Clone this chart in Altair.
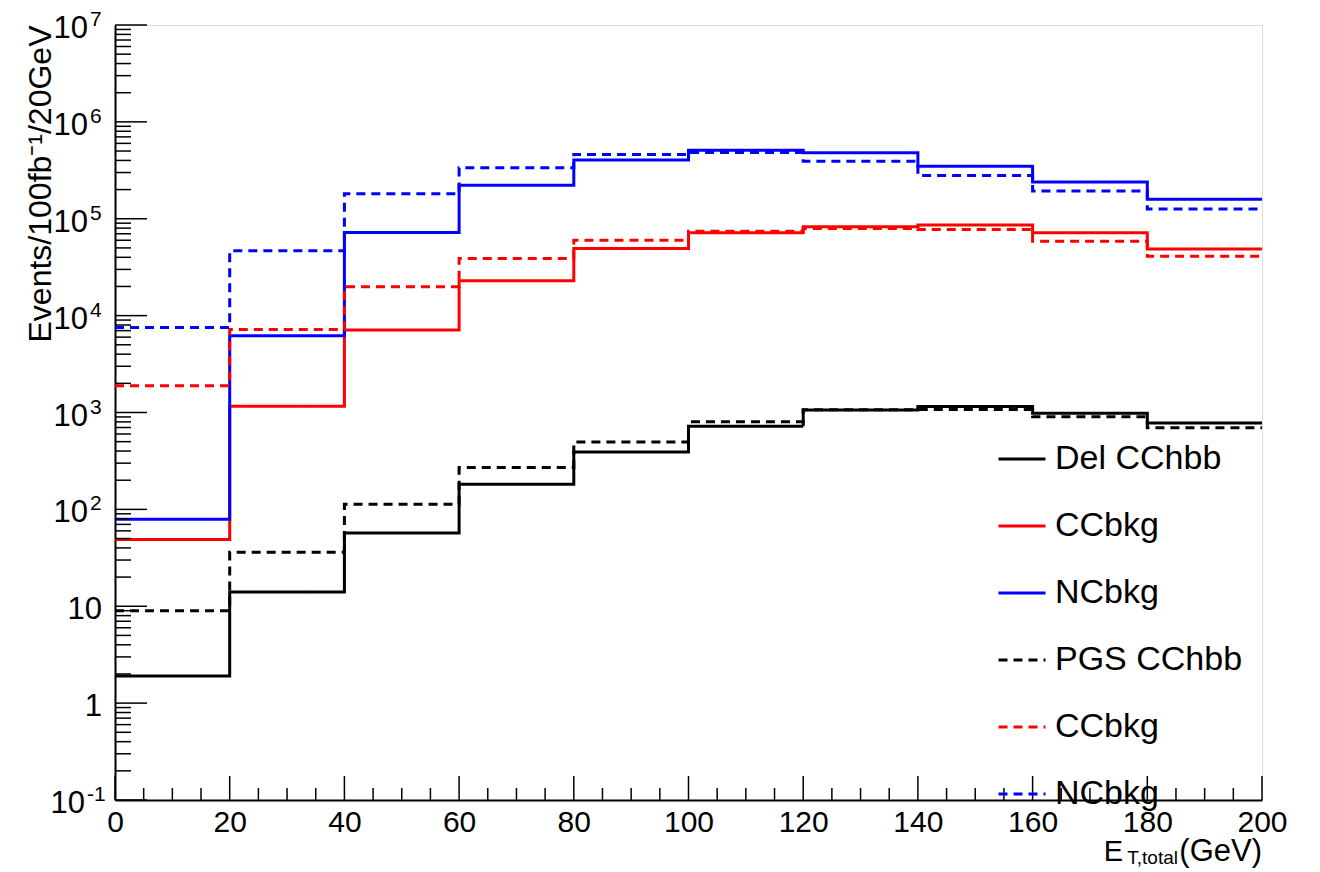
import altair as alt
import pandas as pd

# ---- data ----
bin_edges = [0, 20, 40, 60, 80, 100, 120, 140, 160, 180, 200]
series_names = ["Del CChbb", "Del CCbkg", "Del NCbkg", "PGS CChbb", "PGS CCbkg", "PGS NCbkg"]
del_cchbb = [1.9, 14, 57, 182, 390, 720, 1060, 1150, 980, 780]
del_ccbkg = [49, 1160, 7100, 22900, 49400, 71600, 82600, 86000, 71600, 48600]
del_ncbkg = [79, 6200, 72000, 222000, 403000, 510000, 479000, 349000, 240000, 159000]
pgs_cchbb = [9.0, 36, 113, 271, 495, 805, 1070, 1075, 903, 695]
pgs_ccbkg = [1890, 7190, 19900, 38900, 60100, 74500, 79300, 77400, 58700, 41100]
pgs_ncbkg = [7550, 46700, 181000, 336000, 461000, 483000, 393000, 280000, 193000, 126000]

series_colors = ["#000000", "#ff0000", "#0000ff", "#000000", "#ff0000", "#0000ff"]
series_dashes = [[1, 0], [1, 0], [1, 0], [9, 6], [9, 6], [9, 6]]

y_label_values = [0.1, 1, 10, 100, 1e3, 1e4, 1e5, 1e6, 1e7]
y_label_base = ["10", "1", "10", "10", "10", "10", "10", "10", "10"]
y_label_exp = ["-1", "", "", "2", "3", "4", "5", "6", "7"]
x_label_values = [0, 20, 40, 60, 80, 100, 120, 140, 160, 180, 200]

W, H = 1147, 775
FONT = "Liberation Sans"

# ---- tables ----
all_series = [del_cchbb, del_ccbkg, del_ncbkg, pgs_cchbb, pgs_ccbkg, pgs_ncbkg]
rows = []
for name, vals in zip(series_names, all_series):
    for i, v in enumerate(vals):
        rows.append({"series": name, "x": bin_edges[i], "value": v})
    rows.append({"series": name, "x": bin_edges[-1], "value": vals[-1]})
hist_df = pd.DataFrame(rows)

ymaj_df = pd.DataFrame({"value": y_label_values})
ymin_df = pd.DataFrame({"value": [k * d for d in y_label_values[:-1] for k in range(2, 10)]})
xmaj_df = pd.DataFrame({"x": x_label_values})
xmin_df = pd.DataFrame({"x": [v for v in range(0, 201, 5) if v % 20 != 0]})

lab_df = pd.DataFrame({"value": y_label_values, "base": y_label_base, "exp": y_label_exp})
lab_exp1_df = lab_df[lab_df["exp"].str.len() == 1]
lab_exp2_df = lab_df[lab_df["exp"].str.len() == 2]
lab_plain_df = lab_df[lab_df["exp"] == ""]

# ---- scales / axes ----
xscale = alt.Scale(domain=[0, 200], nice=False, zero=False)
yscale = alt.Scale(type="log", domain=[0.1, 1e7], nice=False)
xaxis = alt.Axis(values=x_label_values, ticks=False, grid=False, labelFontSize=30,
                 labelFont=FONT, labelColor="black", labelPadding=7, domainColor="black",
                 domainWidth=2, title="", labelFlush=False)
yaxis = alt.Axis(labels=False, ticks=False, grid=False, domainColor="black", domainWidth=2,
                 title="Events/100fb⁻¹/20GeV", titleFont=FONT, titleFontSize=32,
                 titleFontWeight="normal", titleColor="black", titleAngle=-90,
                 titleAlign="right", titleBaseline="alphabetic", titleX=-65, titleY=0)

X = alt.X("x:Q", scale=xscale, axis=xaxis)
Y = alt.Y("value:Q", scale=yscale, axis=yaxis)

hist = alt.Chart(hist_df).mark_line(interpolate="step-after", strokeWidth=3, clip=True).encode(
    x=X, y=Y,
    color=alt.Color("series:N", title="",
                    scale=alt.Scale(domain=series_names, range=series_colors),
                    legend=alt.Legend(orient="none", legendX=882, legendY=409, symbolType="stroke",
                                      symbolSize=2209, symbolStrokeWidth=3, labelFontSize=34,
                                      labelFont=FONT, labelColor="black", rowPadding=25,
                                      labelOffset=8, padding=0, labelLimit=400,
                                      labelExpr="indexof(datum.label,'bkg')>=0 ? slice(datum.label,4) : datum.label")),
    strokeDash=alt.StrokeDash("series:N", title="",
                              scale=alt.Scale(domain=series_names, range=series_dashes)),
    order=alt.Order("series:N"),
)

ymaj = alt.Chart(ymaj_df).mark_rule(color="black", strokeWidth=1.5).encode(
    y=Y, x=alt.value(0), x2=alt.value(32))
ymin = alt.Chart(ymin_df).mark_rule(color="black", strokeWidth=1.5).encode(
    y=Y, x=alt.value(0), x2=alt.value(16))
xmaj = alt.Chart(xmaj_df).mark_rule(color="black", strokeWidth=1.5).encode(
    x=X, y=alt.value(H), y2=alt.value(H - 24))
xmin = alt.Chart(xmin_df).mark_rule(color="black", strokeWidth=1.5).encode(
    x=X, y=alt.value(H), y2=alt.value(H - 12))

base_style = dict(font=FONT, fontSize=31, align="right", baseline="middle", dy=4, color="black")
exp_style = dict(font=FONT, fontSize=21, align="left", baseline="middle", dy=-5, color="black")
ylab_b1 = alt.Chart(lab_exp1_df).mark_text(**base_style).encode(y=Y, x=alt.value(-27), text="base:N")
ylab_e1 = alt.Chart(lab_exp1_df).mark_text(**exp_style).encode(y=Y, x=alt.value(-25), text="exp:N")
ylab_b2 = alt.Chart(lab_exp2_df).mark_text(**base_style).encode(y=Y, x=alt.value(-30), text="base:N")
ylab_e2 = alt.Chart(lab_exp2_df).mark_text(**exp_style).encode(y=Y, x=alt.value(-28), text="exp:N")
ylab_p = alt.Chart(lab_plain_df).mark_text(**base_style).encode(y=Y, x=alt.value(-13), text="base:N")

xt_df = pd.DataFrame({"t": ["(GeV)"], "s": ["T,total"], "e": ["E"]})
xt1 = alt.Chart(xt_df).mark_text(font=FONT, fontSize=31, align="right", baseline="alphabetic",
                                 color="black").encode(x=alt.value(W), y=alt.value(H + 61), text="t:N")
xt2 = alt.Chart(xt_df).mark_text(font=FONT, fontSize=19, align="right", baseline="alphabetic",
                                 color="black").encode(x=alt.value(W - 84), y=alt.value(H + 64), text="s:N")
xt3 = alt.Chart(xt_df).mark_text(font=FONT, fontSize=29, align="right", baseline="alphabetic",
                                 color="black").encode(x=alt.value(W - 139), y=alt.value(H + 61), text="e:N")

chart = alt.layer(hist, ymaj, ymin, xmaj, xmin, ylab_b1, ylab_e1, ylab_b2, ylab_e2, ylab_p,
                  xt1, xt2, xt3).properties(
    width=W, height=H,
    autosize=alt.AutoSizeParams(type="none"),
    padding={"left": 107, "top": 17, "right": 50, "bottom": 72},
).configure_view(stroke="black", strokeWidth=1.5).configure(background="white")

chart.save("out.html", embed_options={"renderer": "svg", "actions": False})
